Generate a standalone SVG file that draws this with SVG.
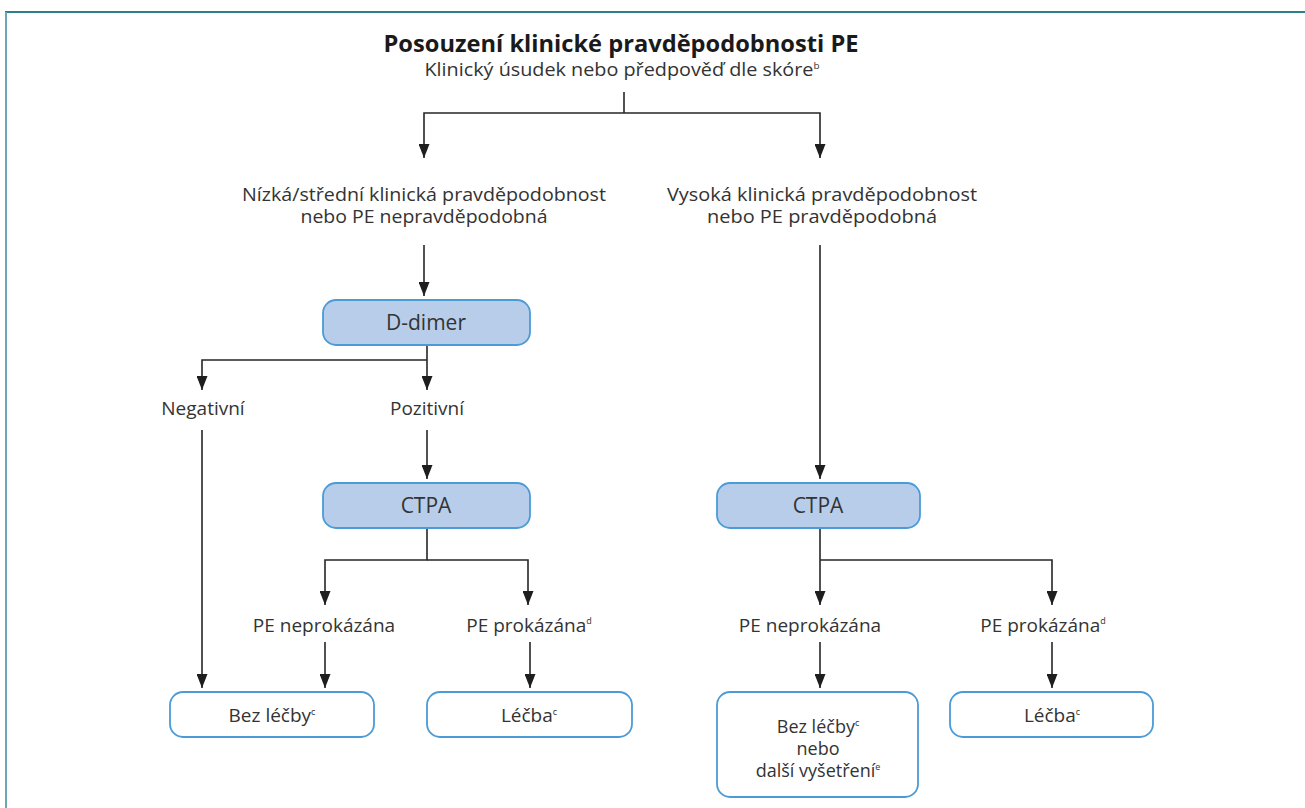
<svg xmlns="http://www.w3.org/2000/svg" width="1305" height="808" viewBox="0 0 1305 808">
  <defs>
    <marker id="arrow" markerWidth="14" markerHeight="11" refX="14" refY="5.5" orient="auto" markerUnits="userSpaceOnUse" viewBox="0 0 14 11">
      <path d="M0,0 L14,5.5 L0,11 Z" fill="#1e1e1e"/>
    </marker>
    <style>
      .frame-top { stroke: #2b7f8e; stroke-width: 2; fill: none; }
      .frame-left { stroke: #6aa9b3; stroke-width: 2; fill: none; }
      .link { stroke: #262626; stroke-width: 1.6; fill: none; }
      .arr { marker-end: url(#arrow); }
      .test { fill: #b8cde9; stroke: #4b9bd8; stroke-width: 1.8; }
      .result { fill: #ffffff; stroke: #4b9bd8; stroke-width: 1.8; }
      text { font-family: "Open Sans", "Noto Sans", "Liberation Sans", sans-serif; fill: #333333; text-anchor: middle; }
      .title { font-weight: bold; font-size: 24px; fill: #1a1a1a; }
      .sub { font-size: 18px; }
      .lbl { font-size: 19px; }
      .lbl2 { font-size: 18px; }
      .box { font-size: 21px; }
      .out { font-size: 19px; }
      .out2 { font-size: 18px; }
      .sup { font-size: 9px; }
    </style>
  </defs>

  <!-- page frame -->
  <line class="frame-top" x1="5" y1="12" x2="1305" y2="12"/>
  <line class="frame-left" x1="6" y1="12" x2="6" y2="808"/>

  <!-- heading -->
  <g id="heading">
    <text class="title" x="621" y="52" textLength="475" lengthAdjust="spacingAndGlyphs">Posouzení klinické pravděpodobnosti PE</text>
    <text class="sub" x="622" y="76" textLength="395" lengthAdjust="spacingAndGlyphs">Klinický úsudek nebo předpověď dle skóre<tspan class="sup" dy="-7">b</tspan></text>
  </g>

  <!-- connectors -->
  <g id="connectors">
    <path class="link" d="M624,92 V113"/>
    <path class="link arr" d="M624,113 H424 V158"/>
    <path class="link arr" d="M624,113 H820 V158"/>

    <path class="link arr" d="M424,245 V296"/>
    <path class="link arr" d="M427,345 V390"/>
    <path class="link arr" d="M427,360 H202 V390"/>

    <path class="link arr" d="M202,430 V688"/>
    <path class="link arr" d="M427,430 V479"/>

    <path class="link arr" d="M427,528 V560 H325 V605"/>
    <path class="link arr" d="M427,560 H528 V605"/>
    <path class="link arr" d="M325,642 V688"/>
    <path class="link arr" d="M530,642 V688"/>

    <path class="link arr" d="M820,245 V479"/>
    <path class="link arr" d="M820,528 V605"/>
    <path class="link arr" d="M820,560 H1052 V605"/>
    <path class="link arr" d="M820,642 V688"/>
    <path class="link arr" d="M1052,642 V688"/>
  </g>

  <!-- probability branches -->
  <g id="low-prob">
    <text class="lbl2" x="424" y="201" textLength="364" lengthAdjust="spacingAndGlyphs">Nízká/střední klinická pravděpodobnost</text>
    <text class="lbl2" x="424" y="223" textLength="247" lengthAdjust="spacingAndGlyphs">nebo PE nepravděpodobná</text>
  </g>
  <g id="high-prob">
    <text class="lbl2" x="822" y="201" textLength="310" lengthAdjust="spacingAndGlyphs">Vysoká klinická pravděpodobnost</text>
    <text class="lbl2" x="822" y="223" textLength="230" lengthAdjust="spacingAndGlyphs">nebo PE pravděpodobná</text>
  </g>

  <!-- D-dimer test -->
  <g id="d-dimer">
    <rect class="test" x="323" y="300" width="207" height="45" rx="13"/>
    <text class="box" x="426" y="330">D-dimer</text>
  </g>
  <g id="negative">
    <text class="lbl" x="203" y="415">Negativní</text>
  </g>
  <g id="positive">
    <text class="lbl" x="427" y="415">Pozitivní</text>
  </g>

  <!-- CTPA, low/intermediate branch -->
  <g id="ctpa-left">
    <rect class="test" x="323" y="483" width="207" height="45" rx="13"/>
    <text class="box" x="426" y="513">CTPA</text>
  </g>
  <g id="excluded-left">
    <text class="lbl" x="324" y="632">PE neprokázána</text>
  </g>
  <g id="confirmed-left">
    <text class="lbl" x="529" y="632">PE prokázána<tspan class="sup" dy="-8">d</tspan></text>
  </g>
  <g id="no-treatment-left">
    <rect class="result" x="170" y="692" width="204" height="45" rx="13"/>
    <text class="out" x="272" y="722">Bez léčby<tspan class="sup" dy="-7">c</tspan></text>
  </g>
  <g id="treatment-left">
    <rect class="result" x="427" y="692" width="205" height="45" rx="13"/>
    <text class="out" x="529" y="722">Léčba<tspan class="sup" dy="-7">c</tspan></text>
  </g>

  <!-- CTPA, high branch -->
  <g id="ctpa-right">
    <rect class="test" x="717" y="483" width="203" height="45" rx="13"/>
    <text class="box" x="818" y="513">CTPA</text>
  </g>
  <g id="excluded-right">
    <text class="lbl" x="810" y="632">PE neprokázána</text>
  </g>
  <g id="confirmed-right">
    <text class="lbl" x="1043" y="632">PE prokázána<tspan class="sup" dy="-8">d</tspan></text>
  </g>
  <g id="no-treatment-right">
    <rect class="result" x="717" y="692" width="201" height="105" rx="13"/>
    <text class="out2" x="818" y="733">Bez léčby<tspan class="sup" dy="-7">c</tspan></text>
    <text class="out2" x="818" y="755">nebo</text>
    <text class="out2" x="818" y="777">další vyšetření<tspan class="sup" dy="-7">e</tspan></text>
  </g>
  <g id="treatment-right">
    <rect class="result" x="950" y="692" width="203" height="45" rx="13"/>
    <text class="out" x="1052" y="722">Léčba<tspan class="sup" dy="-7">c</tspan></text>
  </g>
</svg>
